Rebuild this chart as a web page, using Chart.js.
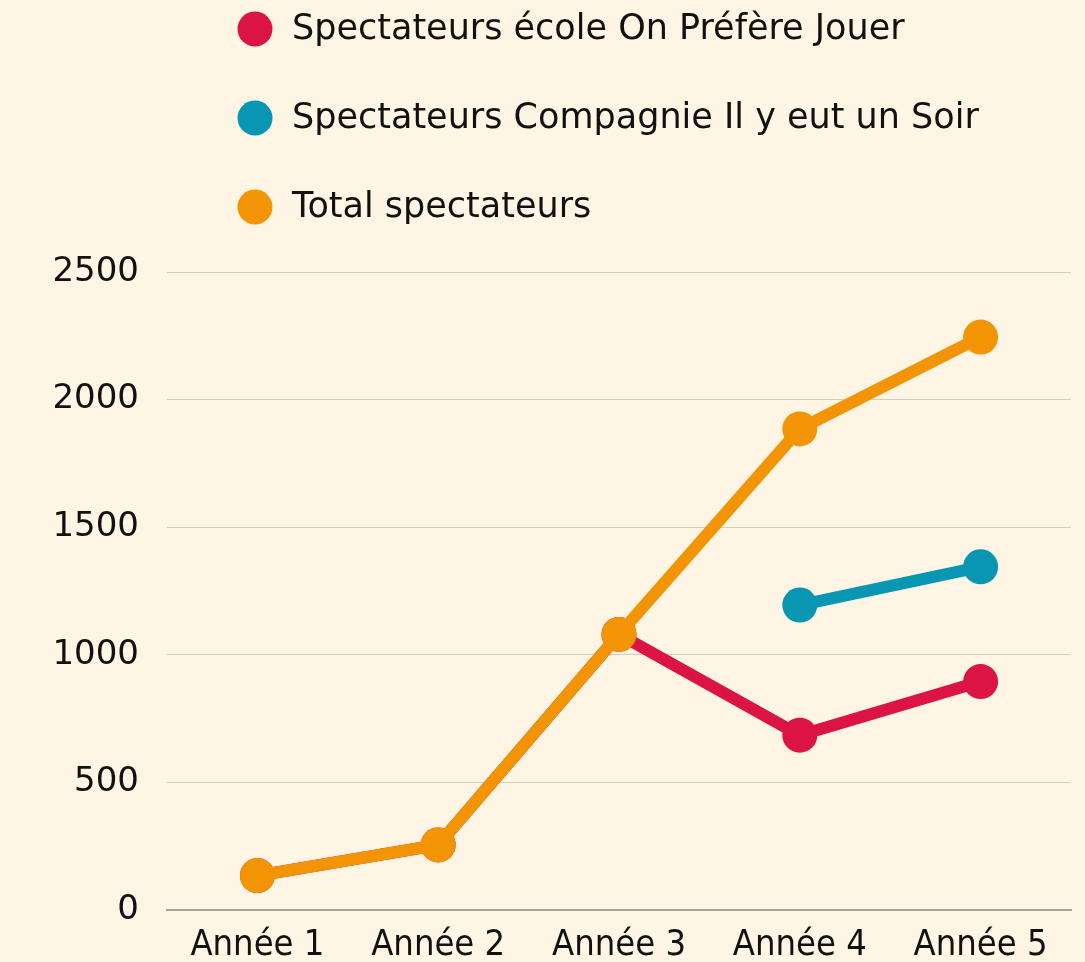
<!DOCTYPE html>
<html lang="fr">
<head>
<meta charset="utf-8">
<script src="https://cdn.jsdelivr.net/npm/chart.js@4"></script>
<style>
  html, body { margin: 0; padding: 0; background: #fef5e4; }
  #wrap { width: 1085px; height: 962px; }
</style>
</head>
<body>
<div id="wrap"><canvas id="chart1"></canvas></div>
<script>
// Données
const annees = ['Année 1', 'Année 2', 'Année 3', 'Année 4', 'Année 5'];
const ecole = [135, 255, 1080, 685, 895];
const compagnie = [null, null, null, 1195, 1345];
const total = [135, 255, 1080, 1885, 2245];
const yTicks = [0, 500, 1000, 1500, 2000, 2500];

const fontFamily = '"DejaVu Sans", sans-serif';
const fontCondensed = '"DejaVu Sans Condensed", "DejaVu Sans", sans-serif';

// legende verticale a gauche, dessinee au dessus du graphique
const legendeVerticale = {
    id: 'legendeVerticale',
    afterDraw(chart) {
        const ctx = chart.ctx;
        ctx.save();
        chart.data.datasets.forEach((ds, i) => {
            const y = 29 + i * 89;
            ctx.beginPath();
            ctx.arc(255, y, 17.5, 0, Math.PI * 2);
            ctx.fillStyle = ds.borderColor;
            ctx.fill();
            ctx.fillStyle = '#111';
            ctx.font = '35px ' + fontFamily;
            ctx.textBaseline = 'middle';
            ctx.textAlign = 'left';
            ctx.fillText(ds.label, 292, y + 1);
        });
        ctx.restore();
    }
};

function serie(label, data, color, order) {
    return {
        label: label,
        data: data,
        borderColor: color,
        backgroundColor: color,
        pointBackgroundColor: color,
        pointBorderWidth: 0,
        pointRadius: 17.5,
        pointHoverRadius: 17.5,
        borderWidth: 12,
        fill: false,
        tension: 0,
        spanGaps: false,
        order: order
    };
}

new Chart(document.getElementById('chart1'), {
    type: 'line',
    data: {
        labels: annees,
        datasets: [
            serie('Spectateurs école On Préfère Jouer', ecole, '#dc1446', 1),
            serie('Spectateurs Compagnie Il y eut un Soir', compagnie, '#0896b3', 2),
            serie('Total spectateurs', total, '#f39405', 0)
        ]
    },
    options: {
        responsive: true,
        maintainAspectRatio: false,
        animation: false,
        layout: {
            autoPadding: false,
            padding: { top: 272, right: 14, left: 0, bottom: 0 }
        },
        plugins: {
            legend: { display: false },
            tooltip: { enabled: false }
        },
        scales: {
            x: {
                offset: true,
                afterFit(scale) {
                    scale.height = 52;
                    scale.paddingRight = 0;
                    scale.paddingLeft = 0;
                },
                grid: { display: false, drawTicks: false },
                border: { display: true, color: '#a9a397', width: 2 },
                ticks: {
                    color: '#111',
                    font: { family: fontCondensed, size: 36 },
                    padding: 14,
                    maxRotation: 0,
                    autoSkip: false
                }
            },
            y: {
                min: 0,
                max: 2500,
                afterBuildTicks(scale) {
                    scale.ticks = yTicks.map(v => ({ value: v }));
                },
                afterFit(scale) { scale.width = 167; },
                grid: { color: '#d3ccbf', lineWidth: 1, drawTicks: false },
                border: { display: false },
                ticks: {
                    color: '#111',
                    font: { family: fontFamily, size: 34 },
                    padding: 28,
                    callback: v => String(v)
                }
            }
        }
    },
    plugins: [legendeVerticale]
});
</script>
</body>
</html>
